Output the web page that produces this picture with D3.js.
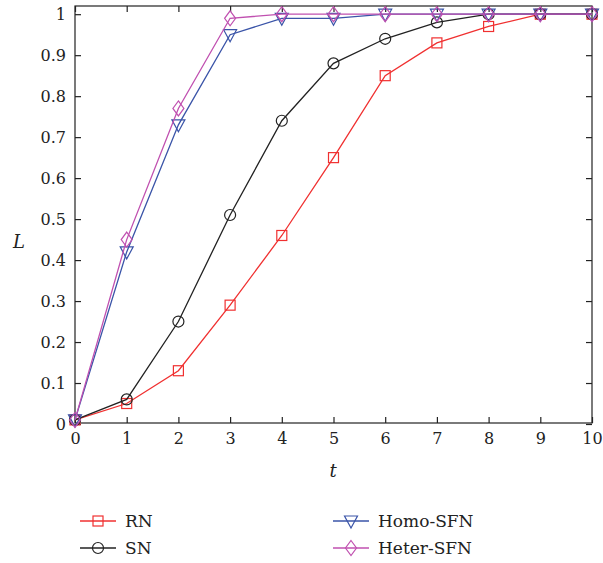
<!DOCTYPE html>
<html>
<head>
<meta charset="utf-8">
<script src="https://cdn.jsdelivr.net/npm/d3@7"></script>
<style>
  body { margin: 0; background: #fff; }
</style>
</head>
<body>
<div id="chart"></div>
<script>
// data
const tValues = [0, 1, 2, 3, 4, 5, 6, 7, 8, 9, 10];
const rnValues = [0.01, 0.05, 0.13, 0.29, 0.46, 0.65, 0.85, 0.93, 0.97, 1.0, 1.0];
const snValues = [0.01, 0.06, 0.25, 0.51, 0.74, 0.88, 0.94, 0.98, 1.0, 1.0, 1.0];
const homoValues = [0.01, 0.42, 0.73, 0.95, 0.99, 0.99, 1.0, 1.0, 1.0, 1.0, 1.0];
const heterValues = [0.01, 0.45, 0.77, 0.99, 1.0, 1.0, 1.0, 1.0, 1.0, 1.0, 1.0];
const yTicks = [0, 0.1, 0.2, 0.3, 0.4, 0.5, 0.6, 0.7, 0.8, 0.9, 1];
const xTicks = [0, 1, 2, 3, 4, 5, 6, 7, 8, 9, 10];

const series = [
  { name: 'RN', values: rnValues, color: '#f03030', symbol: 'square' },
  { name: 'SN', values: snValues, color: '#222222', symbol: 'circle' },
  { name: 'Homo-SFN', values: homoValues, color: '#3a54a8', symbol: 'triangle' },
  { name: 'Heter-SFN', values: heterValues, color: '#c050b0', symbol: 'diamond' }
];

const FONT = '"DejaVu Serif", serif';
const width = 603, height = 563;
const margin = { left: 75, right: 11, top: 6, bottom: 140 };

const svg = d3.select('#chart').append('svg')
  .attr('width', width)
  .attr('height', height)
  .style('font-family', FONT);

const x = d3.scaleLinear().domain([0, 10]).range([margin.left, width - margin.right]);
const y = d3.scaleLinear().domain([0, 1.02]).range([height - margin.bottom + 1, margin.top]);

const plotTop = margin.top, plotBottom = height - margin.bottom;

// frame
svg.append('rect')
  .attr('x', x(0)).attr('y', plotTop)
  .attr('width', x(10) - x(0)).attr('height', plotBottom - plotTop)
  .attr('fill', 'none').attr('stroke', '#222').attr('stroke-width', 1.2);

// axes with inward ticks
const axB = svg.append('g').attr('transform', `translate(0,${plotBottom})`)
  .call(d3.axisBottom(x).tickValues(xTicks).tickSize(-6).tickPadding(10).tickFormat(d3.format('d')));
const axT = svg.append('g').attr('transform', `translate(0,${plotTop})`)
  .call(d3.axisTop(x).tickValues(xTicks).tickSize(-6).tickFormat(''));
const axL = svg.append('g').attr('transform', `translate(${x(0)},0)`)
  .call(d3.axisLeft(y).tickValues(yTicks).tickSize(-6).tickPadding(9).tickFormat(d => d3.format('')(d)));
const axR = svg.append('g').attr('transform', `translate(${x(10)},0)`)
  .call(d3.axisRight(y).tickValues(yTicks).tickSize(-6).tickFormat(''));

[axB, axT, axL, axR].forEach(g => {
  g.attr('font-family', null).attr('font-size', null);
  g.select('.domain').remove();
  g.selectAll('.tick line').attr('stroke', '#222').attr('stroke-width', 1.2);
  g.selectAll('.tick text').attr('fill', '#222')
    .style('font-family', FONT).style('font-size', '16px');
});

// axis labels
svg.append('text').attr('x', 13).attr('y', 248).attr('fill', '#222')
  .style('font-size', '18px').style('font-style', 'italic').text('L');
svg.append('text').attr('x', 333).attr('y', 477).attr('fill', '#222')
  .attr('text-anchor', 'middle').style('font-size', '18px').style('font-style', 'italic').text('t');

function marker(sel, symbol, color) {
  if (symbol === 'square') {
    sel.append('rect').attr('x', -5).attr('y', -5).attr('width', 10).attr('height', 10);
  } else if (symbol === 'circle') {
    sel.append('circle').attr('r', 5.5);
  } else if (symbol === 'triangle') {
    sel.append('path').attr('d', 'M-6.5,-5 L6.5,-5 L0,7 Z');
  } else {
    sel.append('path').attr('d', 'M0,-7.5 L5.5,0 L0,7.5 L-5.5,0 Z');
  }
  sel.selectAll('*').attr('fill', 'none').attr('stroke', color).attr('stroke-width', 1.2);
}

const line = d3.line().x((d, i) => x(tValues[i])).y(d => y(d));

series.forEach(s => {
  svg.append('path')
    .attr('d', line(s.values))
    .attr('fill', 'none')
    .attr('stroke', s.color)
    .attr('stroke-width', 1.3);

  svg.append('g').selectAll('g')
    .data(s.values)
    .enter().append('g')
    .attr('transform', (d, i) => `translate(${x(tValues[i])},${y(d)})`)
    .each(function () { marker(d3.select(this), s.symbol, s.color); });
});

// legend
const legendPos = [[80, 521], [80, 548], [333, 521], [333, 548]];
series.forEach((s, i) => {
  const [lx, ly] = legendPos[i];
  const g = svg.append('g').attr('transform', `translate(${lx},${ly})`);
  g.append('line').attr('x1', 0).attr('x2', 36).attr('y1', 0).attr('y2', 0)
    .attr('stroke', s.color).attr('stroke-width', 1.3);
  const m = g.append('g').attr('transform', 'translate(18,0)');
  marker(m, s.symbol, s.color);
  g.append('text').attr('x', 45).attr('y', 6).attr('fill', '#222')
    .style('font-size', '17px').text(s.name);
});
</script>
</body>
</html>
